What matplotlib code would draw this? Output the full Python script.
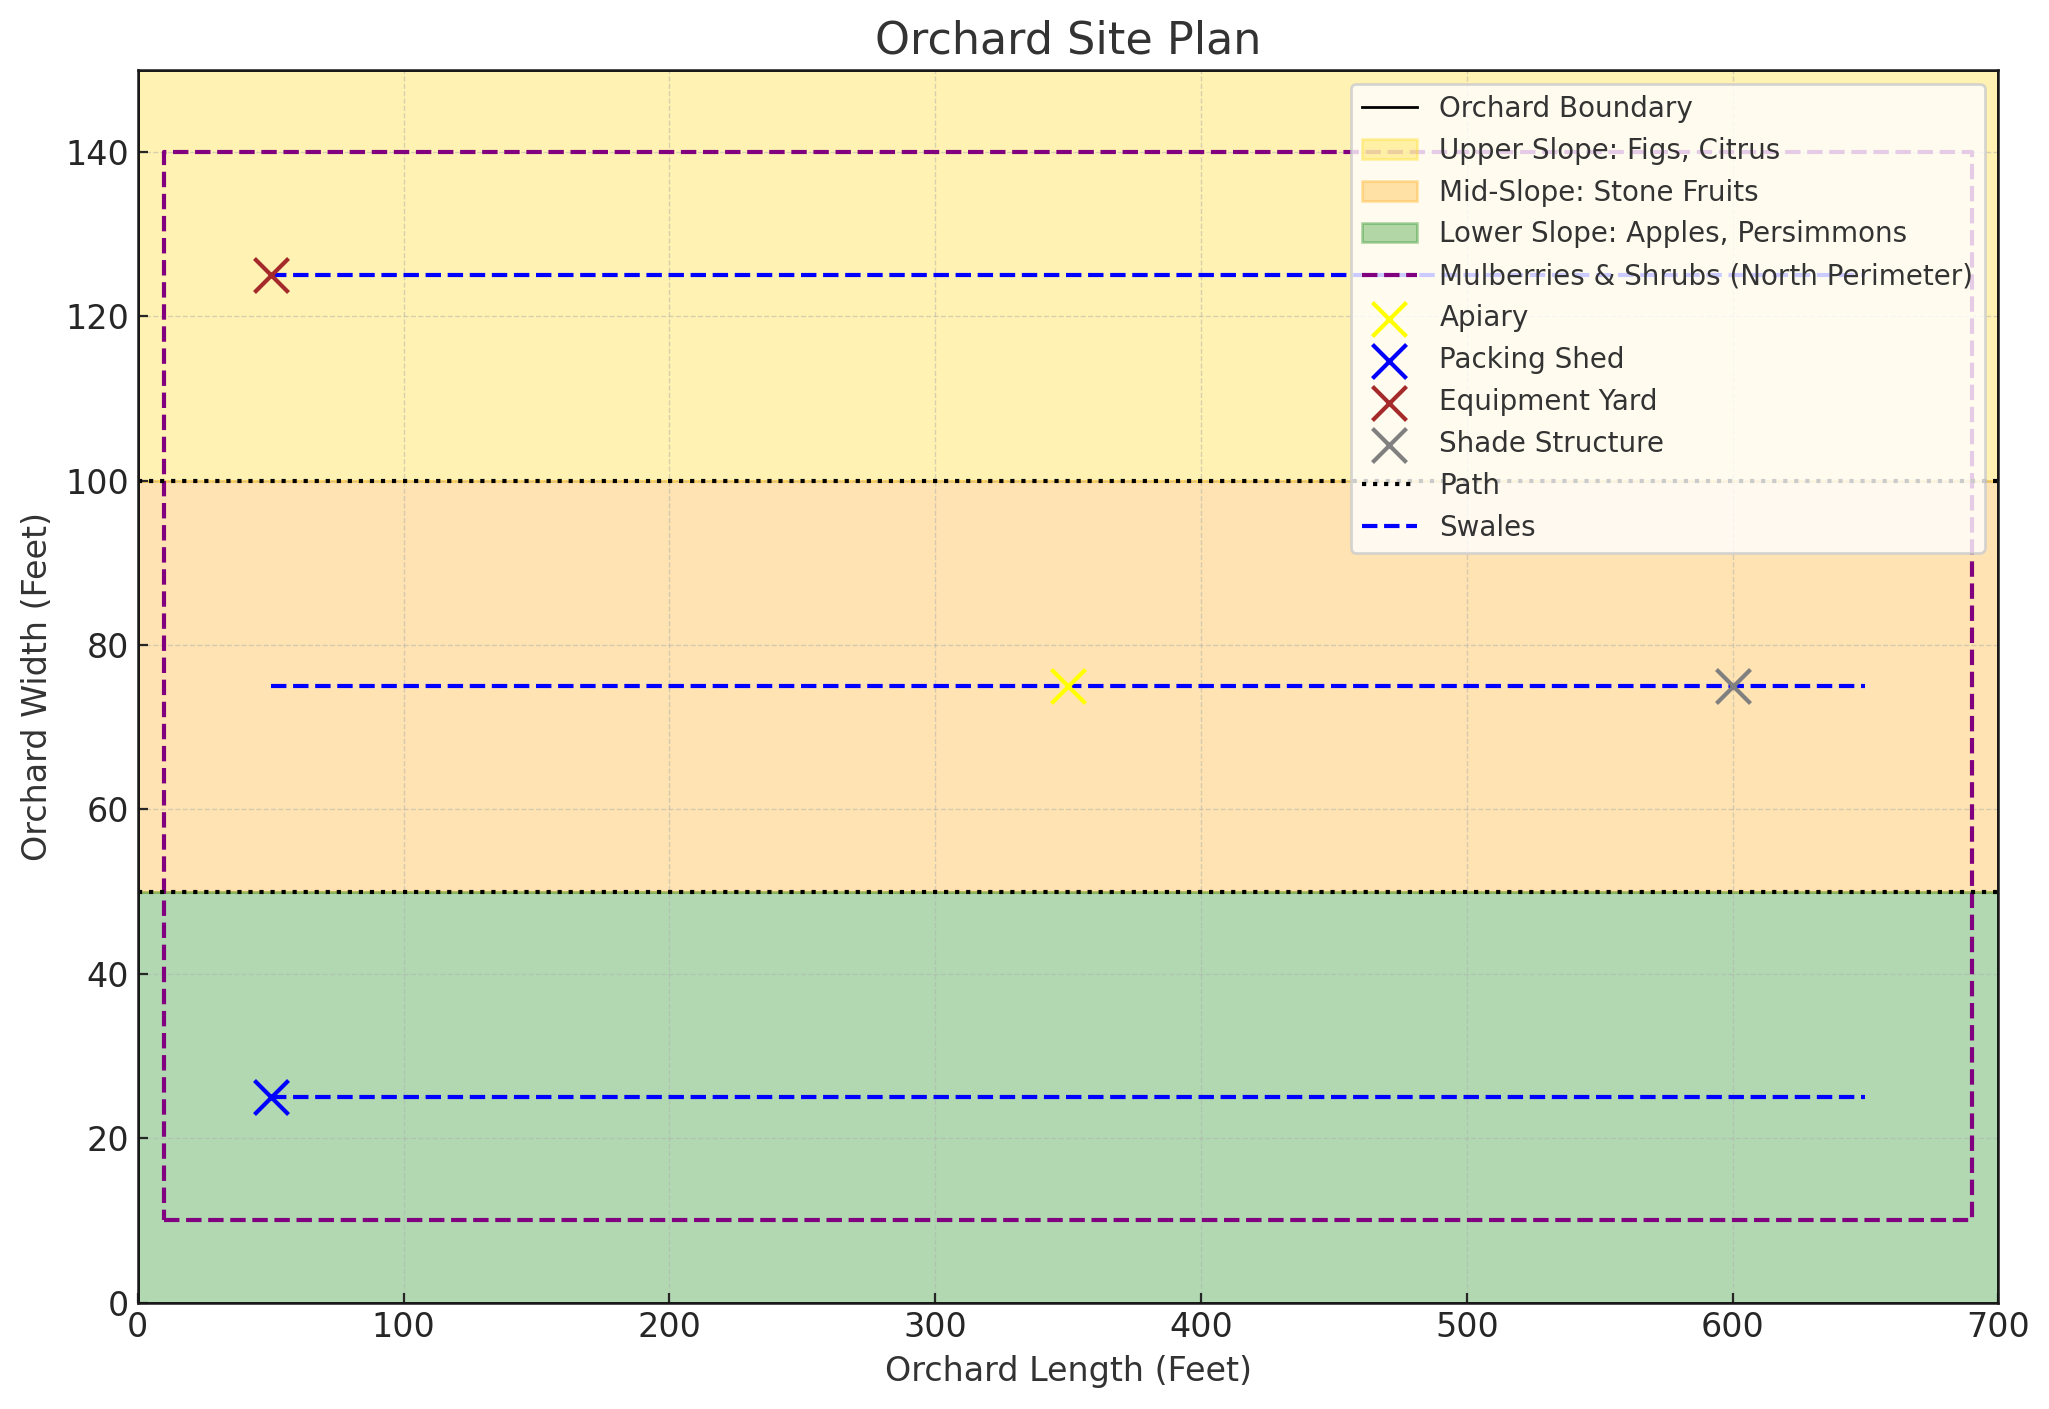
import matplotlib.pyplot as plt

plt.rcParams["font.family"] = "DejaVu Sans"
plt.rcParams["xtick.direction"] = "in"
plt.rcParams["ytick.direction"] = "in"

boundary_x = [0, 700, 700, 0, 0]
boundary_y = [0, 0, 150, 150, 0]
zones = [
    ("Upper Slope: Figs, Citrus", 100, 150, "gold"),
    ("Mid-Slope: Stone Fruits", 50, 100, "orange"),
    ("Lower Slope: Apples, Persimmons", 0, 50, "green"),
]
perimeter_x = [10, 690, 690, 10, 10]
perimeter_y = [10, 10, 140, 140, 10]
structures = [
    ("Apiary", 350, 75, "yellow"),
    ("Packing Shed", 50, 25, "blue"),
    ("Equipment Yard", 50, 125, "brown"),
    ("Shade Structure", 600, 75, "gray"),
]
paths = [50, 100]
swales = [25, 75, 125]
swale_x = [50, 650]

fig, ax = plt.subplots(figsize=(10.245, 7.045), dpi=200)

ax.plot(boundary_x, boundary_y, color="black", lw=1, label="Orchard Boundary")
for name, y0, y1, color in zones:
    ax.axhspan(y0, y1, color=color, alpha=0.3, label=name)
ax.plot(perimeter_x, perimeter_y, color="purple", ls="--", lw=1.5,
        label="Mulberries & Shrubs (North Perimeter)")
for name, x, y, color in structures:
    ax.scatter(x, y, color=color, marker="x", s=150, label=name, zorder=3)
for i, y in enumerate(paths):
    ax.plot([0, 700], [y, y], color="black", ls=":", lw=1.5, label="Path" if i == 0 else None)
for i, y in enumerate(swales):
    ax.plot(swale_x, [y, y], color="blue", ls="--", lw=1.5, label="Swales" if i == 0 else None)

ax.set_xlim(0, 700)
ax.set_ylim(0, 150)
ax.set_title("Orchard Site Plan", fontsize=16, color="#333333")
ax.set_xlabel("Orchard Length (Feet)", fontsize=12, color="#333333")
ax.set_ylabel("Orchard Width (Feet)", fontsize=12, color="#333333")
ax.tick_params(labelsize=12, labelcolor="#262626", color="#262626", length=3.5, width=0.8, pad=3)
ax.grid(True, ls="--", lw=0.5, alpha=0.5, color="#b0b0b0")
for spine in ax.spines.values():
    spine.set_linewidth(0.9)
    spine.set_color("#1a1a1a")
ax.legend(loc="upper right", fontsize=10, labelcolor="#333333")

fig.subplots_adjust(left=0.0672, right=0.9753, top=0.9505, bottom=0.0755)
fig.savefig("out.png", dpi=200)
plt.close(fig)
